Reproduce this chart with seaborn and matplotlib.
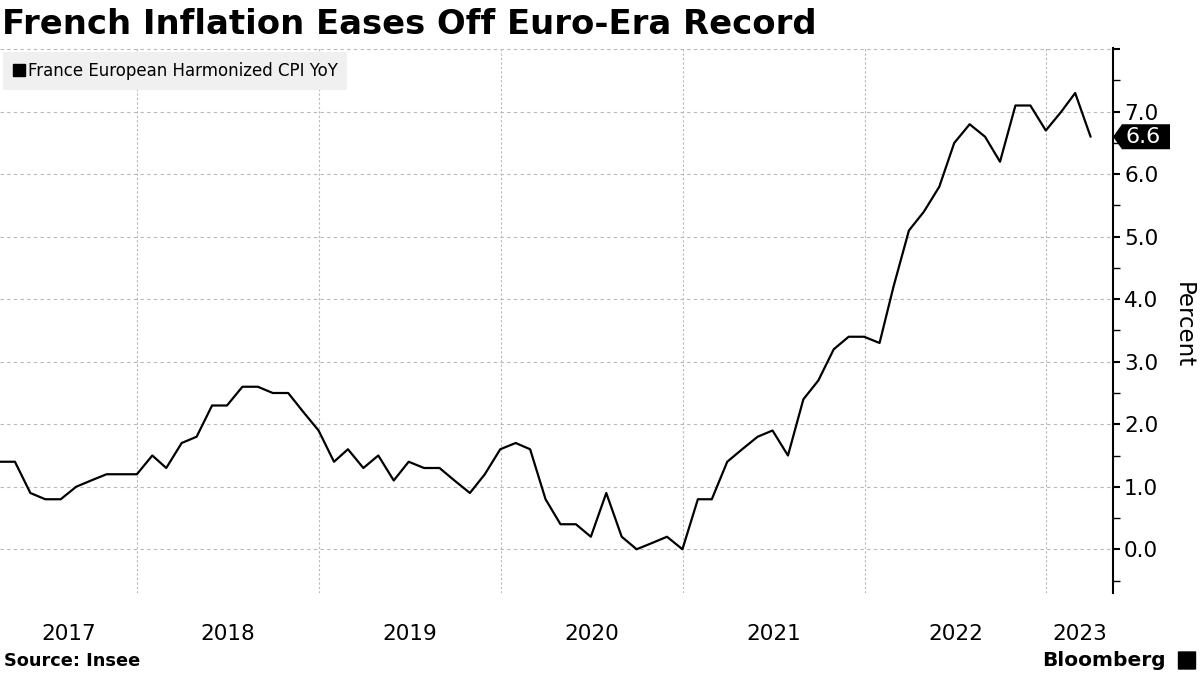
import matplotlib
matplotlib.use('Agg')
import matplotlib.pyplot as plt
import matplotlib.dates as mdates
from matplotlib.lines import Line2D
from matplotlib.patches import Polygon, FancyBboxPatch
import matplotlib.transforms as mtransforms
import seaborn as sns
import numpy as np
import pandas as pd

# France HICP YoY, monthly, Mar 2017 - Mar 2023 (plotted at month end)
start_month = "2017-03"
cpi_yoy = [
    1.4, 1.4, 0.9, 0.8, 0.8, 1.0, 1.1, 1.2, 1.2, 1.2,            # 2017 Mar-Dec
    1.5, 1.3, 1.7, 1.8, 2.3, 2.3, 2.6, 2.6, 2.5, 2.5, 2.2, 1.9,  # 2018
    1.4, 1.6, 1.3, 1.5, 1.1, 1.4, 1.3, 1.3, 1.1, 0.9, 1.2, 1.6,  # 2019
    1.7, 1.6, 0.8, 0.4, 0.4, 0.2, 0.9, 0.2, 0.0, 0.1, 0.2, 0.0,  # 2020
    0.8, 0.8, 1.4, 1.6, 1.8, 1.9, 1.5, 2.4, 2.7, 3.2, 3.4, 3.4,  # 2021
    3.3, 4.2, 5.1, 5.4, 5.8, 6.5, 6.8, 6.6, 6.2, 7.1, 7.1, 6.7,  # 2022
    7.0, 7.3, 6.6,                                                # 2023
]
series_name = "France European Harmonized CPI YoY"
year_labels = [2017, 2018, 2019, 2020, 2021, 2022, 2023]
y_ticks = [0, 1, 2, 3, 4, 5, 6, 7, 8]

dates = pd.date_range(start=start_month, periods=len(cpi_yoy), freq="ME")
df = pd.DataFrame({"date": dates, "value": cpi_yoy})

sns.set_style("white")
plt.rcParams['font.family'] = ['DejaVu Sans']
plt.rcParams['text.color'] = 'black'
plt.rcParams['ytick.color'] = 'black'

fig = plt.figure(figsize=(12, 6.75), dpi=100)
ax = fig.add_axes([0.0, 82 / 675, 1113 / 1200, (593 - 48) / 675])

sns.lineplot(data=df, x="date", y="value", ax=ax, color="black", linewidth=1.6)

# axis limits
x_left = dates[0]
x_right = pd.Timestamp("2023-05-15")
ax.set_xlim(x_left, x_right)
ax.set_ylim(-0.7, 8.02)

# grid
gray = "#b8b8b8"
for y in y_ticks:
    ax.axhline(y, color=gray, linestyle=(0, (3, 3)), linewidth=0.8, zorder=0)
for yr in year_labels[1:]:
    ax.axvline(pd.Timestamp(f"{yr}-01-01"), color=gray, linestyle=(0, (2, 2)),
               linewidth=0.8, zorder=0)

# spines
for s in ["top", "left", "bottom"]:
    ax.spines[s].set_visible(False)
ax.spines["right"].set_color("black")
ax.spines["right"].set_linewidth(1.5)

# y axis on right
ax.yaxis.tick_right()
ax.set_yticks(y_ticks)
ax.set_yticklabels([f"{v:.1f}" if v < 8 else "" for v in y_ticks], fontsize=15.5)
ax.set_yticks(np.arange(-0.5, 8.0, 1.0), minor=True)
ax.tick_params(axis="y", which="major", direction="out", length=5, width=1.5,
               pad=3, colors="black", right=True, left=False)
ax.tick_params(axis="y", which="minor", direction="out", length=5, width=1.0,
               right=True, left=False)
ax.set_ylabel("")
ax.set_xlabel("")

# x labels centred in each visible year
ax.set_xticks([])
tr = mtransforms.blended_transform_factory(ax.transData, fig.transFigure)
for yr in year_labels:
    a = max(pd.Timestamp(f"{yr}-01-01"), x_left)
    b = min(pd.Timestamp(f"{yr + 1}-01-01"), x_right)
    mid = a + (b - a) / 2
    ax.text(mdates.date2num(mid), 1 - 634 / 675, str(yr), transform=tr,
            ha="center", va="center", fontsize=15.5)

# "Percent" label
fig.text(1183 / 1200, 1 - 325 / 675, "Percent", rotation=270, ha="center",
         va="center", fontsize=16.5)

# last value tag
last = cpi_yoy[-1]
tag_tr = mtransforms.blended_transform_factory(fig.transFigure, ax.transData)
h = 0.2
x0, x1, x2 = 1113 / 1200, 1122 / 1200, 1170 / 1200
tag = Polygon([(x0, last), (x1, last + h), (x2, last + h), (x2, last - h), (x1, last - h)],
              closed=True, transform=tag_tr, facecolor="black", edgecolor="none",
              clip_on=False, zorder=5)
ax.add_patch(tag)
ax.text(1143 / 1200, last, f"{last:.1f}", transform=tag_tr, color="white",
        ha="center", va="center", fontsize=16, zorder=6)

# legend
handle = Line2D([], [], marker="s", color="black", linestyle="none", markersize=8)
leg = ax.legend([handle], [series_name], loc="upper left", bbox_to_anchor=(0.0, 0.997),
                frameon=True, fontsize=12, handletextpad=0.1, handlelength=0.8,
                borderpad=0.6, borderaxespad=0.15)
leg.get_frame().set_facecolor("#f0f0f0")
leg.get_frame().set_edgecolor("none")
leg.get_frame().set_alpha(1)
leg.get_frame().set_boxstyle("square", pad=0)

# title & footer
fig.text(2 / 1200, 1 - 24 / 675, "French Inflation Eases Off Euro-Era Record",
         fontsize=24.4, fontweight="bold", ha="left", va="center")
fig.text(4 / 1200, 1 - 661 / 675, "Source: Insee", fontsize=12.8, fontweight="bold",
         ha="left", va="center")
fig.text(1166 / 1200, 1 - 660 / 675, "Bloomberg", fontsize=14.5, fontweight="bold",
         ha="right", va="center")
logo = FancyBboxPatch((1179 / 1200, 1 - 669 / 675), 16 / 1200, 17 / 675,
                      boxstyle="round,pad=0.001", transform=fig.transFigure,
                      facecolor="black", edgecolor="none")
fig.patches.append(logo)

fig.savefig("out.png", dpi=100)
